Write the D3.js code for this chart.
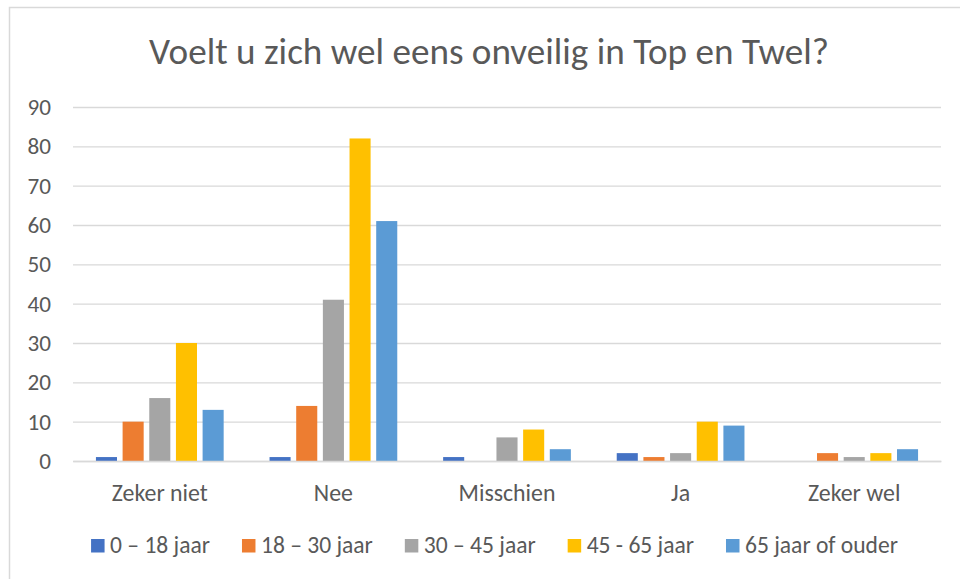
<!DOCTYPE html>
<html>
<head>
<meta charset="utf-8">
<script src="https://cdn.jsdelivr.net/npm/d3@7"></script>
<style>
  html, body { margin: 0; padding: 0; background: #fff; }
  svg { display: block; }
  text { font-family: Carlito, Calibri, "Open Sans", "Noto Sans", sans-serif; fill: #595959; }
</style>
</head>
<body>
<svg id="chart" width="960" height="579"></svg>
<script>
const title = "Voelt u zich wel eens onveilig in Top en Twel?";
const categories = ["Zeker niet", "Nee", "Misschien", "Ja", "Zeker wel"];
const seriesNames = ["0 – 18 jaar", "18 – 30 jaar", "30 – 45 jaar", "45 - 65 jaar", "65 jaar of ouder"];
const seriesColors = ["#4472C4", "#ED7D31", "#A5A5A5", "#FFC000", "#5B9BD5"];
const values0_18 = [1, 1, 1, 2, 0];
const values18_30 = [10, 14, 0, 1, 2];
const values30_45 = [16, 41, 6, 2, 1];
const values45_65 = [30, 82, 8, 10, 2];
const values65plus = [13, 61, 3, 9, 3];
const yTicks = [0, 10, 20, 30, 40, 50, 60, 70, 80, 90];

const seriesValues = [values0_18, values18_30, values30_45, values45_65, values65plus];
const FONT = 'Carlito, Calibri, "Open Sans", "Noto Sans", sans-serif';

const svg = d3.select("#chart");

// helper: font size so that sample string has the target width
function fitSize(sample, base, target) {
  const tmp = svg.append("text").attr("font-size", base).style("font-family", FONT).text(sample);
  const w = tmp.node().getComputedTextLength();
  tmp.remove();
  return base * target / w;
}
const tickSize = fitSize("90", 18, 23.5);
const catSize = fitSize("Zeker niet", 19, 96);
const legSize = fitSize("0 – 18 jaar", 19, 100);
const titleSize = fitSize(title, 28, 680);

// chart-area border
svg.append("rect")
  .attr("x", 9.5).attr("y", 7.5)
  .attr("width", 980).attr("height", 600)
  .attr("fill", "none").attr("stroke", "#D9D9D9").attr("stroke-width", 1.5);

const plot = { left: 73, right: 941, top: 107, bottom: 461 };

const x0 = d3.scaleBand().domain(categories).range([plot.left, plot.right]).padding(0);
const x1 = d3.scaleBand().domain(d3.range(seriesNames.length))
  .range([0, x0.bandwidth()]).paddingInner(0.21).paddingOuter(0.86);
const y = d3.scaleLinear().domain([0, 90]).range([plot.bottom, plot.top]);

// gridlines
const yAxis = d3.axisLeft(y).tickValues(yTicks).tickSize(-(plot.right - plot.left)).tickPadding(22);
const gy = svg.append("g").attr("transform", `translate(${plot.left},0)`).call(yAxis);
gy.select(".domain").remove();
gy.selectAll(".tick line").attr("stroke", "#D9D9D9").attr("stroke-width", 1.3);
gy.selectAll(".tick text").attr("font-size", tickSize).attr("fill", "#595959")
  .style("font-family", FONT);

// bars
const groups = svg.append("g").selectAll("g")
  .data(categories).join("g")
  .attr("transform", d => `translate(${x0(d)},0)`);

groups.selectAll("rect")
  .data((c, ci) => seriesValues.map((vals, si) => ({ si, v: vals[ci] })))
  .join("rect")
  .attr("x", d => x1(d.si))
  .attr("width", x1.bandwidth())
  .attr("y", d => y(d.v))
  .attr("height", d => y(0) - y(d.v))
  .attr("fill", d => seriesColors[d.si]);

// baseline axis
const xAxis = d3.axisBottom(x0).tickSize(0).tickPadding(0);
const gx = svg.append("g").attr("transform", `translate(0,${plot.bottom})`).call(xAxis);
gx.select(".domain").attr("stroke", "#D9D9D9").attr("stroke-width", 1.5);
gx.selectAll(".tick text").attr("font-size", catSize).attr("fill", "#595959")
  .attr("y", 40).attr("dy", null)
  .style("font-family", FONT);

// title
svg.append("text")
  .attr("x", 489).attr("y", 64)
  .attr("text-anchor", "middle")
  .attr("font-size", titleSize)
  .text(title);

// legend
const legend = svg.append("g");
const items = legend.selectAll("g").data(seriesNames).join("g");
items.append("rect").attr("width", 13.5).attr("height", 13.5).attr("y", -14)
  .attr("fill", (d, i) => seriesColors[i]);
items.append("text").attr("x", 19).attr("y", 0)
  .attr("font-size", legSize).text(d => d);
const gap = 32;
let widths = [];
items.each(function () { widths.push(19 + d3.select(this).select("text").node().getComputedTextLength()); });
const totalW = d3.sum(widths) + gap * (widths.length - 1);
let cx = 494.5 - totalW / 2;
items.attr("transform", (d, i) => {
  const tx = cx; cx += widths[i] + gap; return `translate(${tx},${553})`;
});
</script>
</body>
</html>
